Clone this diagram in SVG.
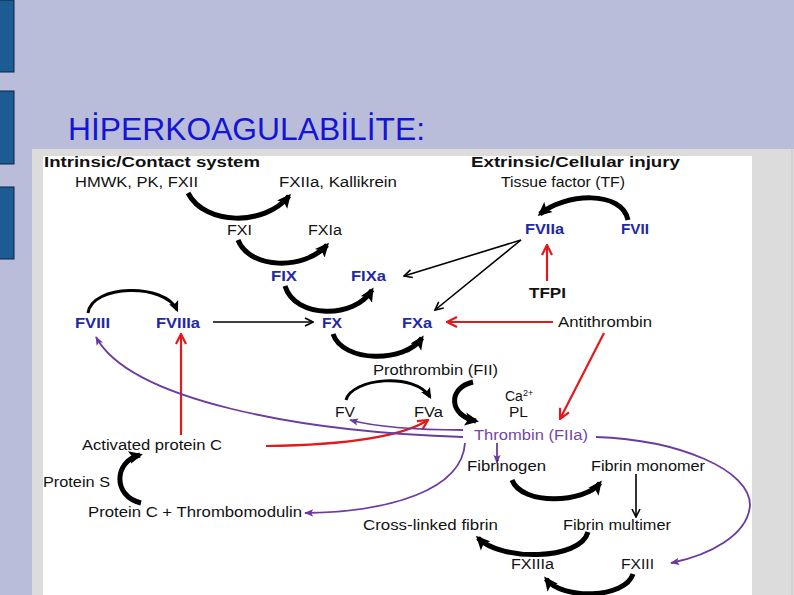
<svg xmlns="http://www.w3.org/2000/svg" width="794" height="595" viewBox="0 0 794 595">
<style>
text{lengthAdjust:spacingAndGlyphs}
.t{font-family:"Liberation Sans",Arial,sans-serif;font-size:14px;fill:#111}
.b{font-family:"Liberation Sans",Arial,sans-serif;font-size:14.5px;font-weight:bold;fill:#111}
.bl{font-family:"Liberation Sans",Arial,sans-serif;font-size:14px;font-weight:bold;fill:#2228a6}
.pu{font-family:"Liberation Sans",Arial,sans-serif;font-size:14px;fill:#7446a6}
.arc{fill:none;stroke:#000;stroke-width:5;marker-end:url(#mThick)}
.arcs{fill:none;stroke:#000;stroke-width:3;marker-end:url(#mThickS)}
.ln{fill:none;stroke:#000;stroke-width:1.6;marker-end:url(#mBlk)}
.rd{fill:none;stroke:#e3191c;stroke-width:2.2;marker-end:url(#mRed)}
.pp{fill:none;stroke:#6c3aa0;stroke-width:1.8;marker-end:url(#mPur)}
.bar{fill:#1b5d93;stroke:#0c2440;stroke-width:1}
</style>
<defs>
<marker id="mThick" markerUnits="userSpaceOnUse" viewBox="0 0 14 14" markerWidth="14" markerHeight="14" refX="11" refY="7" orient="auto"><path d="M0,0.5 L14,7 L0,13.5 L3,7 Z" fill="#000"/></marker>
<marker id="mThickS" markerUnits="userSpaceOnUse" viewBox="0 0 14 14" markerWidth="11" markerHeight="11" refX="11" refY="7" orient="auto"><path d="M0,0.5 L14,7 L0,13.5 L3,7 Z" fill="#000"/></marker>
<marker id="mBlk" markerUnits="userSpaceOnUse" viewBox="0 0 10 10" markerWidth="10" markerHeight="10" refX="9" refY="5" orient="auto"><path d="M1,1 L9,5 L1,9" fill="none" stroke="#000" stroke-width="1.6"/></marker>
<marker id="mRed" markerUnits="userSpaceOnUse" viewBox="0 0 12 12" markerWidth="12" markerHeight="12" refX="11" refY="6" orient="auto"><path d="M1,1 L11,6 L1,11" fill="none" stroke="#e3191c" stroke-width="2.2"/></marker>
<marker id="mPur" markerUnits="userSpaceOnUse" viewBox="0 0 10 10" markerWidth="9" markerHeight="9" refX="9" refY="5" orient="auto"><path d="M0,1 L10,5 L0,9 L2,5 Z" fill="#6c3aa0"/></marker>
</defs>
<rect x="0" y="0" width="794" height="595" fill="#b9bdd9"/>
<rect class="bar" x="-1" y="0" width="15" height="72"/>
<rect class="bar" x="-1" y="91" width="15" height="73"/>
<rect class="bar" x="-1" y="187" width="15" height="72"/>
<text x="68" y="140" style="font-family:'Liberation Sans',Arial,sans-serif;font-size:31px;fill:#1414d4" textLength="357" lengthAdjust="spacingAndGlyphs">HİPERKOAGULABİLİTE:</text>
<rect x="32" y="149" width="762" height="446" fill="#dcdcdc"/>
<rect x="43" y="156" width="709" height="439" fill="#ffffff"/>
<line x1="792" y1="149" x2="792" y2="595" stroke="#c4c4c4" stroke-width="1"/>

<g id="connectors">
<path class="arc" d="M188,193 C205,226 265,226 289,196"/>
<path class="arc" d="M238,240 C250,270 305,270 327,245"/>
<path class="arc" d="M285,286 C295,319 355,319 372,290"/>
<path class="arc" d="M333,334 C343,363 405,363 422,338"/>
<path class="arcs" d="M346,400 C352,378 415,372 430,397"/>
<path class="arc" d="M473,382 C447,388 449,416 476,421"/>
<path class="arc" d="M628,220 C622,190 565,193 540,214"/>
<path class="arc" d="M512,480 C522,506 585,503 600,483"/>
<path class="arc" d="M588,532 C580,561 500,561 478,538"/>
<path class="arc" d="M633,574 C625,599 562,600 546,579"/>
<path class="arcs" d="M88,313 C92,284 165,283 177,310"/>
<path class="arc" d="M141,503 C112,496 114,461 140,455"/>
<path class="ln" d="M213,322 L313,322"/>
<path class="ln" d="M521,240 L404,276"/>
<path class="ln" d="M521,240 L435,310"/>
<path class="ln" d="M636,474 L636,517"/>
<path class="rd" d="M547,281 L547,245"/>
<path class="rd" d="M553,322 L447,322"/>
<path class="rd" d="M604,333 L560,419"/>
<path class="rd" d="M181,435 L181,334"/>
<path class="rd" d="M266,446 C340,445 400,438 428,420"/>
<path class="pp" d="M497,443 L497,463"/>
<path class="pp" d="M463,430 C420,430 380,428 350,420"/>
<path class="pp" d="M463,437 C300,432 130,400 96,337"/>
<path class="pp" d="M465,443 C462,490 390,512 305,513"/>
<path class="pp" d="M596,437 C680,440 750,470 750,505 C748,535 710,555 671,563"/>
</g>

<g id="intrinsic-header"><text class="b" x="44" y="167" textLength="216" lengthAdjust="spacingAndGlyphs">Intrinsic/Contact system</text></g>
<g id="extrinsic-header"><text class="b" x="471" y="167" textLength="209" lengthAdjust="spacingAndGlyphs">Extrinsic/Cellular injury</text></g>
<g id="hmwk"><text class="t" x="75" y="187" textLength="123" lengthAdjust="spacingAndGlyphs">HMWK, PK, FXII</text></g>
<g id="fxiia"><text class="t" x="279" y="187" textLength="118" lengthAdjust="spacingAndGlyphs">FXIIa, Kallikrein</text></g>
<g id="fxi"><text class="t" x="227" y="235" textLength="25" lengthAdjust="spacingAndGlyphs">FXI</text></g>
<g id="fxia"><text class="t" x="308" y="235" textLength="34" lengthAdjust="spacingAndGlyphs">FXIa</text></g>
<g id="fix"><text class="bl" x="271" y="281" textLength="26" lengthAdjust="spacingAndGlyphs">FIX</text></g>
<g id="fixa"><text class="bl" x="351" y="281" textLength="35" lengthAdjust="spacingAndGlyphs">FIXa</text></g>
<g id="fviii"><text class="bl" x="75" y="328" textLength="35" lengthAdjust="spacingAndGlyphs">FVIII</text></g>
<g id="fviiia"><text class="bl" x="156" y="328" textLength="44" lengthAdjust="spacingAndGlyphs">FVIIIa</text></g>
<g id="fx"><text class="bl" x="322" y="328" textLength="20" lengthAdjust="spacingAndGlyphs">FX</text></g>
<g id="fxa"><text class="bl" x="402" y="328" textLength="30" lengthAdjust="spacingAndGlyphs">FXa</text></g>
<g id="tf"><text class="t" x="501" y="187" textLength="124" lengthAdjust="spacingAndGlyphs">Tissue factor (TF)</text></g>
<g id="fviia"><text class="bl" x="525" y="234" textLength="39" lengthAdjust="spacingAndGlyphs">FVIIa</text></g>
<g id="fvii"><text class="bl" x="621" y="234" textLength="28" lengthAdjust="spacingAndGlyphs">FVII</text></g>
<g id="tfpi"><text class="b" x="529" y="298" textLength="37" lengthAdjust="spacingAndGlyphs">TFPI</text></g>
<g id="antithrombin"><text class="t" x="558" y="327" textLength="94" lengthAdjust="spacingAndGlyphs">Antithrombin</text></g>
<g id="prothrombin"><text class="t" x="373" y="375" textLength="125" lengthAdjust="spacingAndGlyphs">Prothrombin (FII)</text></g>
<g id="fv"><text class="t" x="335" y="417" textLength="20" lengthAdjust="spacingAndGlyphs">FV</text></g>
<g id="fva"><text class="t" x="414" y="417" textLength="29" lengthAdjust="spacingAndGlyphs">FVa</text></g>
<g id="ca"><text class="t" x="505" y="401">Ca<tspan font-size="9" dy="-5">2+</tspan></text></g>
<g id="pl"><text class="t" x="509" y="417" textLength="19" lengthAdjust="spacingAndGlyphs">PL</text></g>
<g id="thrombin"><text class="pu" x="474" y="440" textLength="114" lengthAdjust="spacingAndGlyphs">Thrombin (FIIa)</text></g>
<g id="fibrinogen"><text class="t" x="467" y="471" textLength="79" lengthAdjust="spacingAndGlyphs">Fibrinogen</text></g>
<g id="monomer"><text class="t" x="591" y="471" textLength="114" lengthAdjust="spacingAndGlyphs">Fibrin monomer</text></g>
<g id="multimer"><text class="t" x="563" y="530" textLength="108" lengthAdjust="spacingAndGlyphs">Fibrin multimer</text></g>
<g id="crosslinked"><text class="t" x="363" y="530" textLength="135" lengthAdjust="spacingAndGlyphs">Cross-linked fibrin</text></g>
<g id="fxiiia"><text class="t" x="511" y="569" textLength="43" lengthAdjust="spacingAndGlyphs">FXIIIa</text></g>
<g id="fxiii"><text class="t" x="621" y="569" textLength="33" lengthAdjust="spacingAndGlyphs">FXIII</text></g>
<g id="apc"><text class="t" x="82" y="450" textLength="140" lengthAdjust="spacingAndGlyphs">Activated protein C</text></g>
<g id="proteins"><text class="t" x="43" y="487" textLength="67" lengthAdjust="spacingAndGlyphs">Protein S</text></g>
<g id="proteinc"><text class="t" x="88" y="517" textLength="214" lengthAdjust="spacingAndGlyphs">Protein C + Thrombomodulin</text></g>
</svg>
